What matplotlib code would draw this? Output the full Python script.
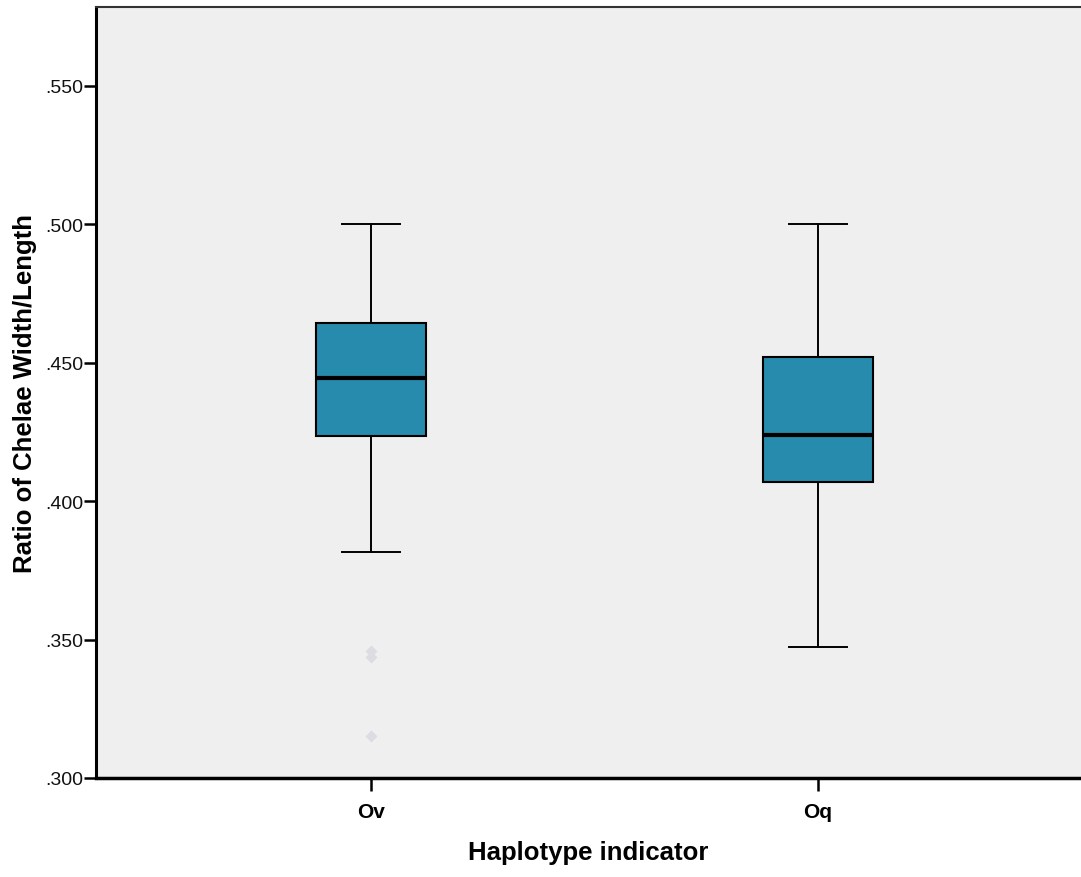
import matplotlib
matplotlib.use("Agg")
import matplotlib.pyplot as plt

# values (ratio of chelae width/length)
groups = ["Ov", "Oq"]
q1 = [0.4236, 0.4069]
med = [0.4445, 0.4239]
q3 = [0.4644, 0.4521]
whislo = [0.3816, 0.3473]
whishi = [0.500, 0.500]
fliers = [[0.3459, 0.3437, 0.3153], []]

yticks = [0.30, 0.35, 0.40, 0.45, 0.50, 0.55]
ytick_labels = [".300", ".350", ".400", ".450", ".500", ".550"]

plt.rcParams["font.family"] = ["Liberation Sans", "DejaVu Sans"]

fig = plt.figure(figsize=(10.81, 8.78), dpi=100)
ax = fig.add_axes([0.0888, 0.1128, 0.9112, 0.8781])
ax.set_facecolor("#efefef")

stats = []
for i in range(len(groups)):
    stats.append(dict(label=groups[i], q1=q1[i], med=med[i], q3=q3[i],
                      whislo=whislo[i], whishi=whishi[i], fliers=fliers[i]))

ax.bxp(stats, positions=[1, 2], widths=0.246, capwidths=0.128,
       patch_artist=True, showfliers=True,
       boxprops=dict(facecolor="#268bad", edgecolor="black", linewidth=1.5),
       medianprops=dict(color="black", linewidth=3),
       whiskerprops=dict(color="black", linewidth=1.4),
       capprops=dict(color="black", linewidth=1.4),
       flierprops=dict(marker="D", markersize=6, markerfacecolor="#dcdce2",
                       markeredgecolor="none"))

ax.set_xlim(0.385, 2.588)
ax.set_ylim(0.30, 0.5785)

ax.set_yticks(yticks)
ax.set_yticklabels(ytick_labels, fontsize=14, color="#111111")
ax.set_xticks([1, 2])
ax.set_xticklabels(groups, fontsize=15, fontweight="bold")
ax.tick_params(axis="y", direction="out", length=9, width=1.8, pad=0)
ax.tick_params(axis="x", direction="out", length=9, width=1.8, pad=8)

ax.spines["right"].set_visible(False)
ax.spines["left"].set_linewidth(2.2)
ax.spines["bottom"].set_linewidth(2.5)
ax.spines["top"].set_linewidth(1.5)
ax.spines["top"].set_color("#333333")

ax.set_xlabel("Haplotype indicator", fontsize=18.5, fontweight="bold", labelpad=14)
ax.set_ylabel("Ratio of Chelae Width/Length", fontsize=18.5, fontweight="bold", labelpad=6)

fig.savefig("out.png", dpi=100)
